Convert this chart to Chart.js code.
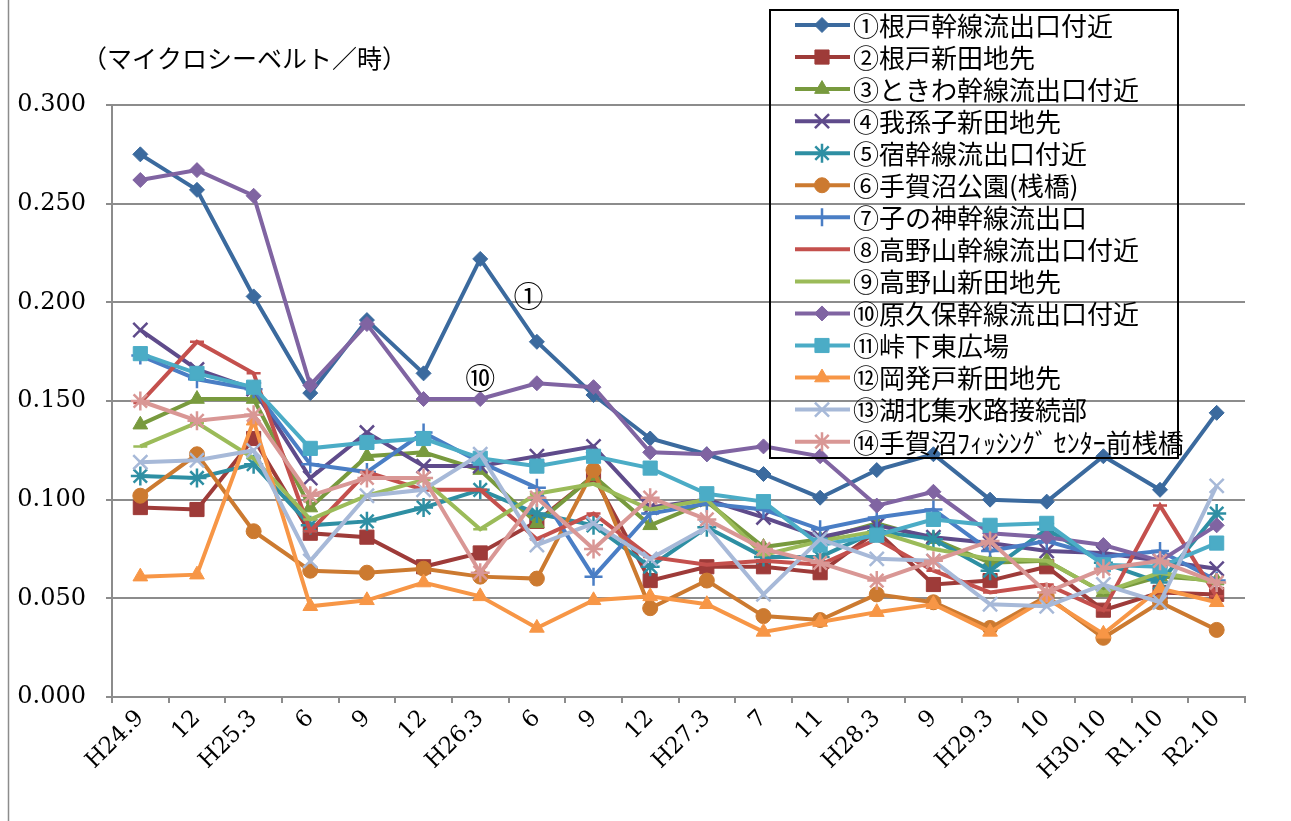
<!DOCTYPE html>
<html>
<head>
<meta charset="utf-8">
<script src="https://cdn.jsdelivr.net/npm/chart.js@4.4.0/dist/chart.umd.min.js"></script>
<style>
  body { margin: 0; background: #fff; }
  #wrap { position: relative; width: 1291px; height: 821px; }
</style>
</head>
<body>
<div id="wrap"><canvas id="doseChart" width="1291" height="821"></canvas></div>
<script>
var categories = ['H24.9', '12', 'H25.3', '6', '9', '12', 'H26.3', '6', '9', '12', 'H27.3', '7', '11', 'H28.3', '9', 'H29.3', '10', 'H30.10', 'R1.10', 'R2.10'];

var seriesNames = [
    '①根戸幹線流出口付近',
    '②根戸新田地先',
    '③ときわ幹線流出口付近',
    '④我孫子新田地先',
    '⑤宿幹線流出口付近',
    '⑥手賀沼公園(桟橋)',
    '⑦子の神幹線流出口',
    '⑧高野山幹線流出口付近',
    '⑨高野山新田地先',
    '⑩原久保幹線流出口付近',
    '⑪峠下東広場',
    '⑫岡発戸新田地先',
    '⑬湖北集水路接続部',
    '⑭手賀沼ﾌｨｯｼﾝｸﾞ ｾﾝﾀｰ前桟橋'
];

var s1 = [0.275, 0.257, 0.203, 0.154, 0.191, 0.164, 0.222, 0.180, 0.153, 0.131, 0.123, 0.113, 0.101, 0.115, 0.123, 0.100, 0.099, 0.122, 0.105, 0.144];
var s2 = [0.096, 0.095, 0.131, 0.083, 0.081, 0.066, 0.073, 0.089, 0.112, 0.059, 0.066, 0.066, 0.063, 0.084, 0.057, 0.059, 0.066, 0.044, 0.053, 0.052];
var s3 = [0.138, 0.151, 0.151, 0.096, 0.122, 0.124, 0.115, 0.088, 0.112, 0.087, 0.099, 0.076, 0.080, 0.088, 0.080, 0.068, 0.069, 0.053, 0.061, 0.059];
var s4 = [0.186, 0.166, 0.156, 0.111, 0.134, 0.117, 0.117, 0.122, 0.127, 0.096, 0.100, 0.091, 0.081, 0.087, 0.081, 0.078, 0.074, 0.073, 0.069, 0.065];
var s5 = [0.112, 0.111, 0.118, 0.087, 0.089, 0.096, 0.105, 0.093, 0.087, 0.066, 0.086, 0.071, 0.071, 0.084, 0.080, 0.064, 0.085, 0.068, 0.058, 0.093];
var s6 = [0.102, 0.123, 0.084, 0.064, 0.063, 0.065, 0.061, 0.060, 0.115, 0.045, 0.059, 0.041, 0.039, 0.052, 0.048, 0.035, 0.051, 0.030, 0.048, 0.034];
var s7 = [0.173, 0.161, 0.156, 0.118, 0.114, 0.134, 0.119, 0.106, 0.061, 0.093, 0.098, 0.095, 0.085, 0.091, 0.095, 0.074, 0.079, 0.071, 0.074, 0.059];
var s8 = [0.149, 0.180, 0.164, 0.084, 0.114, 0.105, 0.105, 0.080, 0.093, 0.071, 0.067, 0.069, 0.067, 0.080, 0.064, 0.053, 0.057, 0.044, 0.097, 0.051];
var s9 = [0.127, 0.139, 0.121, 0.090, 0.102, 0.110, 0.085, 0.103, 0.108, 0.095, 0.100, 0.072, 0.079, 0.084, 0.075, 0.070, 0.069, 0.053, 0.063, 0.058];
var s10 = [0.262, 0.267, 0.254, 0.158, 0.189, 0.151, 0.151, 0.159, 0.157, 0.124, 0.123, 0.127, 0.122, 0.097, 0.104, 0.083, 0.081, 0.077, 0.069, 0.087];
var s11 = [0.174, 0.164, 0.157, 0.126, 0.129, 0.131, 0.121, 0.117, 0.122, 0.116, 0.103, 0.099, 0.077, 0.082, 0.090, 0.087, 0.088, 0.067, 0.066, 0.078];
var s12 = [0.061, 0.062, 0.140, 0.046, 0.049, 0.058, 0.051, 0.035, 0.049, 0.051, 0.047, 0.033, 0.038, 0.043, 0.047, 0.033, 0.050, 0.032, 0.055, 0.048];
var s13 = [0.119, 0.120, 0.125, 0.069, 0.102, 0.105, 0.123, 0.077, 0.088, 0.070, 0.086, 0.052, 0.080, 0.070, 0.069, 0.047, 0.046, 0.057, 0.048, 0.107];
var s14 = [0.150, 0.140, 0.143, 0.102, 0.111, 0.111, 0.063, 0.101, 0.075, 0.101, 0.090, 0.075, 0.068, 0.059, 0.069, 0.079, 0.053, 0.065, 0.069, 0.058];

var seriesValues = [s1, s2, s3, s4, s5, s6, s7, s8, s9, s10, s11, s12, s13, s14];

var yTicks = [0, 0.05, 0.1, 0.15, 0.2, 0.25, 0.3];

// callout labels placed by category index / value
var callouts = [
    { text: '①', index: 6.85, value: 0.2035 },
    { text: '⑩', index: 6.0, value: 0.162 }
];

var colors = ['#3B6A9E', '#9E3B39', '#789A3E', '#5F4B8B', '#2E8FA3', '#CC7A30', '#4A7EC5',
              '#C4504D', '#9BBB59', '#8064A2', '#4BACC6', '#F79646', '#A7B9D8', '#D99795'];
var markers = ['rectRot', 'rect', 'triangle', 'crossRot', 'star', 'circle', 'cross',
               'line', 'line', 'rectRot', 'rect', 'triangle', 'crossRot', 'star'];
var markerSize = { rectRot: 7.5, rect: 10, triangle: 8.5, crossRot: 10, star: 9.5, circle: 7.5, cross: 9, line: 7 };
var strokeOnly = { crossRot: true, star: true, cross: true, line: true };

var datasets = seriesValues.map(function (vals, i) {
    var m = markers[i];
    return {
        label: seriesNames[i],
        data: vals,
        borderColor: colors[i],
        backgroundColor: colors[i],
        borderWidth: 4,
        fill: false,
        tension: 0,
        pointStyle: m,
        pointRadius: markerSize[m],
        pointHoverRadius: markerSize[m],
        pointBackgroundColor: colors[i],
        pointBorderColor: colors[i],
        pointBorderWidth: strokeOnly[m] ? 2.5 : 1,
        order: seriesValues.length - i
    };
});

var jpFont = '"Noto Sans CJK JP", sans-serif';
var numFont = '"DejaVu Serif", serif';

var decorPlugin = {
    id: 'decor',
    beforeDraw: function (chart) {
        var ctx = chart.ctx;
        ctx.save();
        ctx.strokeStyle = '#8c8c8c';
        ctx.lineWidth = 1.5;
        ctx.beginPath();
        ctx.moveTo(8.5, 0);
        ctx.lineTo(8.5, chart.height);
        ctx.stroke();
        ctx.restore();
    },
    afterDatasetsDraw: function (chart) {
        var ctx = chart.ctx;
        var x = chart.scales.x, y = chart.scales.y;
        ctx.save();

        // axis title
        ctx.fillStyle = '#000';
        ctx.font = '25px ' + jpFont;
        ctx.textBaseline = 'middle';
        ctx.textAlign = 'left';
        ctx.fillText('（マイクロシーベルト／時）', 82, 58);

        // callouts
        ctx.font = '30px ' + jpFont;
        ctx.textAlign = 'center';
        callouts.forEach(function (c) {
            ctx.fillText(c.text, x.getPixelForValue(c.index), y.getPixelForValue(c.value));
        });

        // legend
        var bx = 770, by = 10, bw = 408, bh = 448, rowH = 32.05;
        ctx.lineWidth = 2;
        ctx.strokeStyle = '#000';
        ctx.strokeRect(bx, by, bw, bh);
        ctx.font = '26px ' + jpFont;
        ctx.textAlign = 'left';
        chart.data.datasets.forEach(function (ds, i) {
            var cy = by + 15 + i * rowH;
            ctx.strokeStyle = ds.borderColor;
            ctx.lineWidth = 4;
            ctx.beginPath();
            ctx.moveTo(bx + 25, cy);
            ctx.lineTo(bx + 80, cy);
            ctx.stroke();
            ctx.fillStyle = ds.pointBackgroundColor;
            ctx.strokeStyle = ds.pointBorderColor;
            ctx.lineWidth = ds.pointBorderWidth;
            Chart.helpers.drawPoint(ctx, { pointStyle: ds.pointStyle, radius: ds.pointRadius, borderWidth: ds.pointBorderWidth, rotation: 0 }, bx + 52, cy);
            ctx.fillStyle = '#000';
            ctx.fillText(ds.label, bx + 83, cy + 1);
        });
        ctx.restore();
    }
};

var ctx = document.getElementById('doseChart').getContext('2d');

var doseChart = new Chart(ctx, {
    type: 'line',
    data: {
        labels: categories,
        datasets: datasets
    },
    options: {
        responsive: false,
        animation: false,
        devicePixelRatio: 1,
        layout: {
            padding: { left: 0, right: 46, top: 105, bottom: 0 }
        },
        plugins: {
            legend: { display: false },
            title: { display: false },
            tooltip: { enabled: false }
        },
        scales: {
            y: {
                min: 0,
                max: 0.3,
                afterFit: function (scale) { scale.width = 112; },
                afterBuildTicks: function (scale) {
                    scale.ticks = yTicks.map(function (v) { return { value: v }; });
                },
                ticks: {
                    padding: 20,
                    color: '#000',
                    font: { family: numFont, size: 24 },
                    callback: function (v) { return Number(v).toFixed(3); }
                },
                grid: {
                    color: '#8c8c8c',
                    lineWidth: 2,
                    tickLength: 6
                },
                border: { color: '#8c8c8c', width: 2 }
            },
            x: {
                offset: true,
                afterFit: function (scale) { scale.height = 124; },
                ticks: {
                    padding: 2,
                    maxRotation: 45,
                    minRotation: 45,
                    autoSkip: false,
                    color: '#000',
                    font: { family: numFont, size: 23 }
                },
                grid: {
                    offset: true,
                    drawOnChartArea: false,
                    color: '#8c8c8c',
                    lineWidth: 2,
                    tickLength: 6
                },
                border: { color: '#8c8c8c', width: 2 }
            }
        }
    },
    plugins: [decorPlugin]
});
</script>
</body>
</html>
